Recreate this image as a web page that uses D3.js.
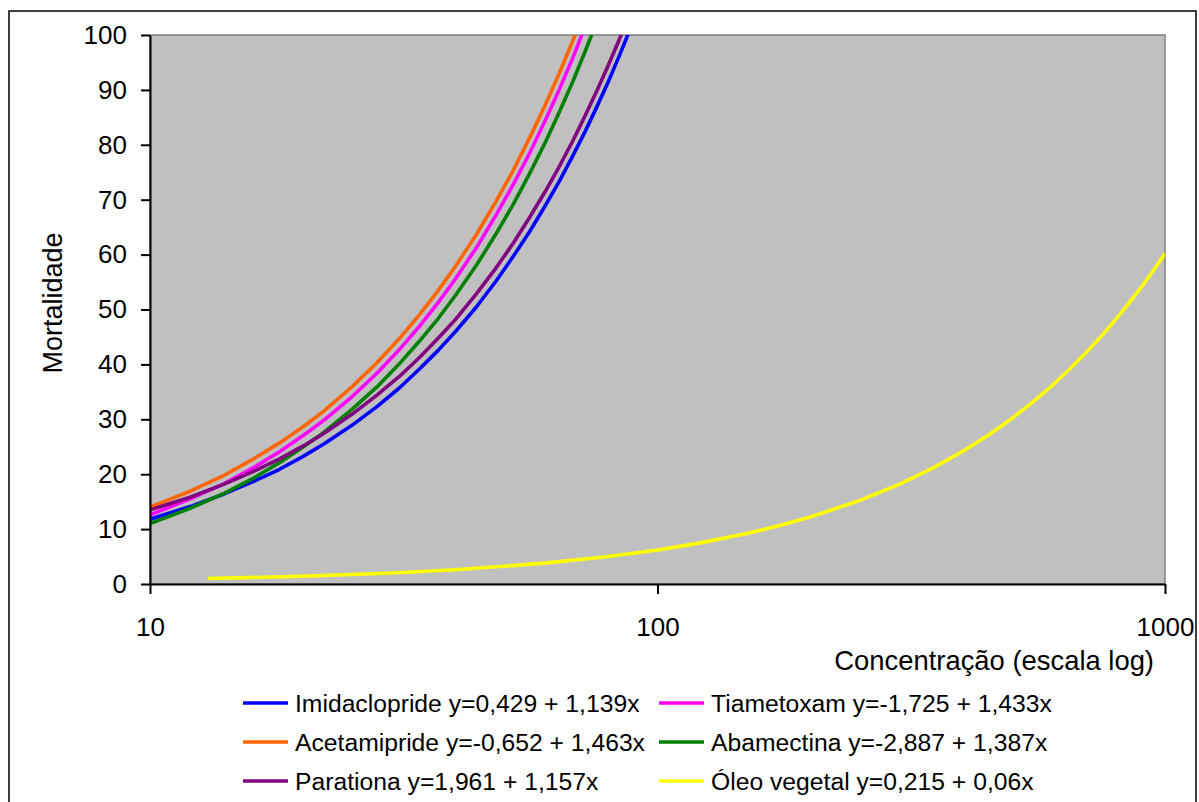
<!DOCTYPE html>
<html>
<head>
<meta charset="utf-8">
<script src="https://cdn.jsdelivr.net/npm/d3@7"></script>
<style>
  html, body { margin: 0; padding: 0; background: #fff; }
  svg { display: block; font-family: Arial, "Liberation Sans", sans-serif; }
</style>
</head>
<body>
<svg id="chart" width="1199" height="802"></svg>
<script>
// concentration values (x) shared by the five insecticides
var concentracao = [10, 12, 14, 16, 18, 20, 22, 25, 28, 31, 34, 37, 40, 44, 48, 52, 56, 60, 64, 68, 72, 76, 80, 84, 88];

var imidaclopride = [11.8, 14.1, 16.4, 18.7, 20.9, 23.2, 25.5, 28.9, 32.3, 35.7, 39.2, 42.6, 46.0, 50.5, 55.1, 59.7, 64.2, 68.8, 73.3, 77.9, 82.4, 87.0, 91.5, 96.1, 100.7];
var tiametoxam    = [12.6, 15.5, 18.3, 21.2, 24.1, 27.0, 29.8, 34.1, 38.4, 42.7, 47.0, 51.3, 55.6, 61.3, 67.1, 72.8, 78.5, 84.3, 90.0, 95.7, 101.5, 107.2, 112.9, 118.6, 124.4];
var acetamipride  = [14.0, 16.9, 19.8, 22.8, 25.7, 28.6, 31.5, 35.9, 40.3, 44.7, 49.1, 53.5, 57.9, 63.7, 69.6, 75.4, 81.3, 87.1, 93.0, 98.8, 104.7, 110.5, 116.4, 122.2, 128.1];
var abamectina    = [11.0, 13.8, 16.5, 19.3, 22.1, 24.9, 27.6, 31.8, 35.9, 40.1, 44.3, 48.4, 52.6, 58.1, 63.7, 69.2, 74.8, 80.3, 85.9, 91.4, 97.0, 102.5, 108.1, 113.6, 119.2];
var parationa     = [13.5, 15.8, 18.2, 20.5, 22.8, 25.1, 27.4, 30.9, 34.4, 37.8, 41.3, 44.8, 48.2, 52.9, 57.5, 62.1, 66.8, 71.4, 76.0, 80.6, 85.3, 89.9, 94.5, 99.1, 103.8];

// vegetable oil has its own concentration range
var concentracaoOleo = [13, 20, 30, 40, 60, 80, 100, 120, 150, 175, 200, 250, 300, 350, 400, 450, 500, 550, 600, 650, 700, 750, 800, 850, 900, 950, 1000];
var oleoVegetal      = [1.0, 1.4, 2.0, 2.6, 3.8, 5.0, 6.2, 7.4, 9.2, 10.7, 12.2, 15.2, 18.2, 21.2, 24.2, 27.2, 30.2, 33.2, 36.2, 39.2, 42.2, 45.2, 48.2, 51.2, 54.2, 57.2, 60.2];

var nomes = ['Imidaclopride y=0,429 + 1,139x', 'Tiametoxam y=-1,725 + 1,433x',
             'Acetamipride y=-0,652 + 1,463x', 'Abamectina y=-2,887 + 1,387x',
             'Parationa y=1,961 + 1,157x', 'Óleo vegetal y=0,215 + 0,06x'];
var cores = ['#0000ff', '#ff00ff', '#ff6600', '#008000', '#800080', '#ffff00'];

var xTicks = [10, 100, 1000];
var yTicks = [0, 10, 20, 30, 40, 50, 60, 70, 80, 90, 100];

var series = [
  { x: concentracao, y: imidaclopride },
  { x: concentracao, y: tiametoxam },
  { x: concentracao, y: acetamipride },
  { x: concentracao, y: abamectina },
  { x: concentracao, y: parationa },
  { x: concentracaoOleo, y: oleoVegetal }
];

var svg = d3.select('#chart');
var plot = { left: 150, top: 35, right: 1165, bottom: 584 };

// outer frame
svg.append('rect')
  .attr('x', 9).attr('y', 11)
  .attr('width', 1187).attr('height', 800)
  .attr('fill', '#fff').attr('stroke', '#000').attr('stroke-width', 1.5);

var x = d3.scaleLog().domain([10, 1000]).range([plot.left, plot.right]);
var y = d3.scaleLinear().domain([0, 100]).range([plot.bottom, plot.top]);

svg.append('rect')
  .attr('x', plot.left).attr('y', plot.top)
  .attr('width', plot.right - plot.left).attr('height', plot.bottom - plot.top)
  .attr('fill', '#c0c0c0').attr('stroke', '#808080').attr('stroke-width', 1.5);

svg.append('clipPath').attr('id', 'clip')
  .append('rect')
  .attr('x', plot.left).attr('y', plot.top)
  .attr('width', plot.right - plot.left).attr('height', plot.bottom - plot.top);

var line = d3.line()
  .x(function(d) { return x(d[0]); })
  .y(function(d) { return y(d[1]); });

svg.append('g').attr('clip-path', 'url(#clip)')
  .selectAll('path')
  .data(series)
  .enter()
  .append('path')
  .attr('d', function(s) { return line(s.x.map(function(v, i) { return [v, s.y[i]]; })); })
  .attr('fill', 'none')
  .attr('stroke', function(s, i) { return cores[i]; })
  .attr('stroke-width', 3.6)
  .attr('stroke-linejoin', 'round');

// axes
var yAxis = svg.append('g')
  .attr('transform', 'translate(' + plot.left + ',0)')
  .call(d3.axisLeft(y).tickValues(yTicks).tickSize(9).tickPadding(14).tickSizeOuter(0));

var xAxis = svg.append('g')
  .attr('transform', 'translate(0,' + plot.bottom + ')')
  .call(d3.axisBottom(x).tickValues(xTicks).tickFormat(d3.format('d')).tickSize(10).tickPadding(24).tickSizeOuter(0));

[xAxis, yAxis].forEach(function(a) {
  a.select('.domain').attr('stroke', '#000').attr('stroke-width', 2);
  a.selectAll('.tick line').attr('stroke', '#000').attr('stroke-width', 2);
  a.selectAll('.tick text').attr('fill', '#000').attr('font-size', 26).attr('font-family', 'Arial, "Liberation Sans", sans-serif');
});

svg.append('text')
  .attr('x', 1154).attr('y', 670)
  .attr('text-anchor', 'end')
  .attr('font-size', 27.4)
  .text('Concentração (escala log)');

svg.append('text')
  .attr('transform', 'translate(62,303) rotate(-90)')
  .attr('text-anchor', 'middle')
  .attr('font-size', 27)
  .text('Mortalidade');

// legend, two columns
var legend = svg.append('g');
var item = legend.selectAll('g')
  .data(nomes)
  .enter()
  .append('g')
  .attr('transform', function(d, i) {
    var col = i % 2, row = Math.floor(i / 2);
    return 'translate(' + (col === 0 ? 243 : 659) + ',' + (703 + row * 39) + ')';
  });

item.append('line')
  .attr('x1', 0).attr('x2', 45)
  .attr('y1', 0).attr('y2', 0)
  .attr('stroke', function(d, i) { return cores[i]; })
  .attr('stroke-width', 3.6);

item.append('text')
  .attr('x', 52).attr('y', 0).attr('dy', '0.35em')
  .attr('font-size', 24.7)
  .text(function(d) { return d; });
</script>
</body>
</html>
